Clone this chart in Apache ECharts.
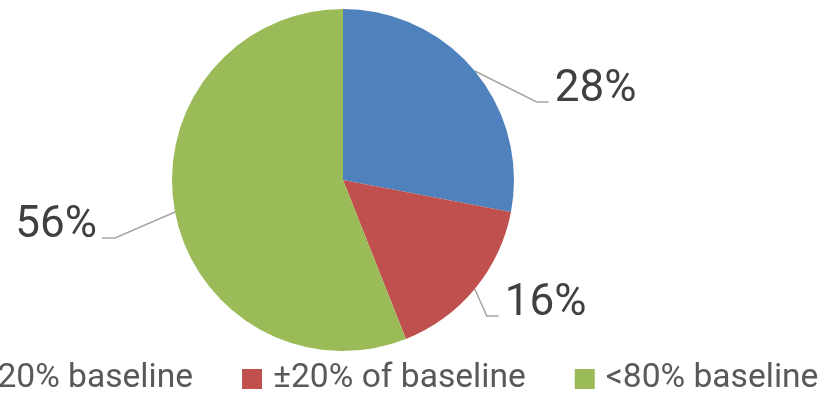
<!DOCTYPE html>
<html>
<head>
<meta charset="utf-8">
<script src="https://cdn.jsdelivr.net/npm/echarts@6/dist/echarts.min.js"></script>
<style>
html,body{margin:0;padding:0;background:#fff;}
#chart{width:833px;height:395px;}
</style>
</head>
<body>
<div id="chart"></div>
<script>
// Data
const categories = ['>120% baseline', '\u00b120% of baseline', '<80% baseline'];
const values = [28, 16, 56];
const colors = ['#4F81BD', '#C0504D', '#9BBB59'];

// Leader-line shape (relative to the slice edge point computed by ECharts)
const labelOffsets = [
  { dx: 62, dy: 31, len: 12 },
  { dx: 12, dy: 27, len: 12 },
  { dx: -60, dy: 26, len: -13 }
];

const chart = echarts.init(document.getElementById('chart'));
const FONT = 'Roboto';

chart.setOption({
  animation: false,
  backgroundColor: '#ffffff',
  color: colors,
  legend: {
    data: categories,
    left: -75,
    top: 357,
    orient: 'horizontal',
    itemWidth: 20,
    itemHeight: 20,
    itemGap: 49,
    icon: 'rect',
    textStyle: {
      fontFamily: FONT,
      fontSize: 33.6,
      color: '#595959',
      padding: [0, 0, 0, 6]
    }
  },
  series: [{
    type: 'pie',
    center: [343, 180],
    radius: 171,
    startAngle: 90,
    clockwise: true,
    avoidLabelOverlap: false,
    itemStyle: { borderWidth: 0 },
    emphasis: { disabled: true },
    data: categories.map((c, i) => ({ name: c, value: values[i] })),
    label: {
      show: true,
      position: 'outside',
      formatter: '{d}%',
      fontFamily: FONT,
      fontSize: 44,
      color: '#404040'
    },
    labelLine: {
      show: true,
      length: 20,
      length2: 10,
      lineStyle: { color: '#A6A6A6', width: 1.5 }
    },
    labelLayout: function (params) {
      const o = labelOffsets[params.dataIndex];
      const p0 = params.labelLinePoints[0];
      const elbow = [p0[0] + o.dx, p0[1] + o.dy];
      const end = [elbow[0] + o.len, elbow[1]];
      const right = o.len > 0;
      return {
        x: end[0] + (right ? 6 : -5),
        y: elbow[1] - 12,
        align: right ? 'left' : 'right',
        verticalAlign: 'middle',
        labelLinePoints: [p0, elbow, end]
      };
    }
  }]
});
</script>
</body>
</html>
